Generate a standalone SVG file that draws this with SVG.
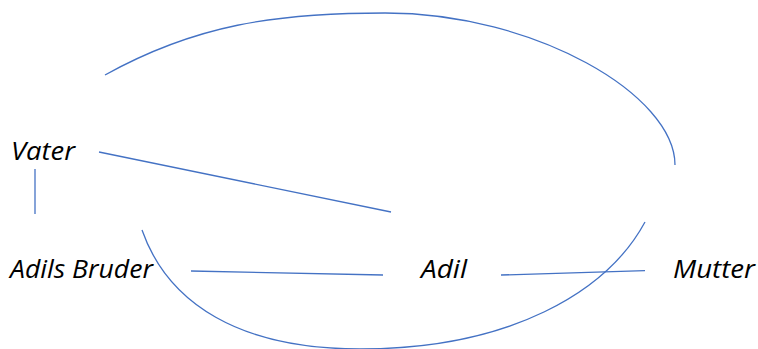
<svg xmlns="http://www.w3.org/2000/svg" width="758" height="349" viewBox="0 0 758 349">
<style>
.lbl{font-family:"Open Sans","Noto Sans","Liberation Sans",sans-serif;font-style:italic;font-size:25px;fill:#000}
.c{fill:none;stroke:#4472C4;stroke-width:1.3}
</style>
<rect width="758" height="349" fill="#fff"/>
<g id="connectors">
<path class="c" d="M105,75 C195,25 275,13 385,13 C535,13 675,95 675,165"/>
<path class="c" d="M142,230 C168,304 240,349 360,349 C510,349 607,292 645,222"/>
<line class="c" x1="99" y1="152" x2="391" y2="212"/>
<line class="c" x1="35" y1="169" x2="35" y2="214"/>
<line class="c" x1="191" y1="271" x2="383" y2="275"/>
<line class="c" x1="501" y1="275" x2="645" y2="270.7"/>
</g>
<g id="vater"><text class="lbl" x="11" y="160" textLength="64" lengthAdjust="spacingAndGlyphs">Vater</text></g>
<g id="bruder"><text class="lbl" x="10" y="278" textLength="143" lengthAdjust="spacingAndGlyphs">Adils Bruder</text></g>
<g id="adil"><text class="lbl" x="421" y="278" textLength="46" lengthAdjust="spacingAndGlyphs">Adil</text></g>
<g id="mutter"><text class="lbl" x="673" y="278" textLength="82" lengthAdjust="spacingAndGlyphs">Mutter</text></g>
</svg>
